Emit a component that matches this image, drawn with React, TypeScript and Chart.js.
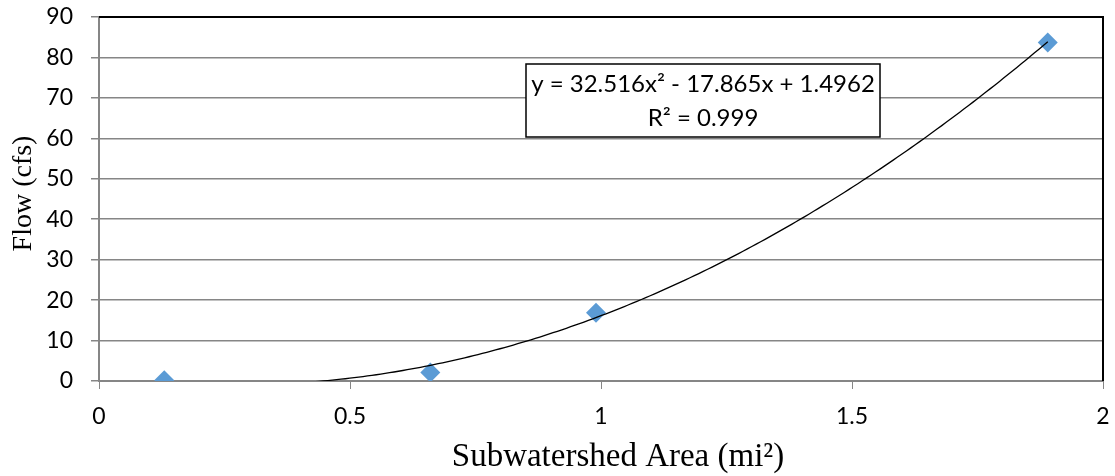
import { useEffect, useRef } from 'react';
import { Chart, registerables } from 'chart.js';

Chart.register(...registerables);

const areas = [0.13, 0.66, 0.99, 1.89];
const flows = [0.2, 2.1, 16.9, 83.7];
const trendCoefficients = [32.516, -17.865, 1.4962];
const xTicks = [0, 0.5, 1, 1.5, 2];
const yTicks = [0, 10, 20, 30, 40, 50, 60, 70, 80, 90];
const equationLines = ['y = 32.516x² - 17.865x + 1.4962', 'R² = 0.999'];
const xTitle = 'Subwatershed Area (mi²)';
const yTitle = 'Flow (cfs)';

const TICK_FONT = "Lato, 'Noto Sans', sans-serif";
const TITLE_FONT = "'Liberation Serif', 'Times New Roman', serif";

function trendPoints() {
  const [a, b, c] = trendCoefficients;
  const pts: { x: number; y: number }[] = [];
  const start = areas[0];
  const end = areas[areas.length - 1];
  const steps = 200;
  for (let i = 0; i <= steps; i++) {
    const x = start + ((end - start) * i) / steps;
    pts.push({ x, y: a * x * x + b * x + c });
  }
  return pts;
}

const framePlugin = {
  id: 'frame',
  afterDatasetsDraw(chart: any) {
    const { ctx, chartArea } = chart;
    ctx.save();
    ctx.strokeStyle = '#000000';
    ctx.lineWidth = 2;
    ctx.beginPath();
    ctx.moveTo(chartArea.left, chartArea.top);
    ctx.lineTo(chartArea.right, chartArea.top);
    ctx.lineTo(chartArea.right, chartArea.bottom);
    ctx.stroke();
    ctx.restore();
  },
  afterDraw(chart: any) {
    const { ctx, chartArea } = chart;
    ctx.save();
    const left = 526, top = 64, right = 880, bottom = 137;
    ctx.fillStyle = '#ffffff';
    ctx.fillRect(left, top, right - left, bottom - top);
    ctx.strokeStyle = '#000000';
    ctx.lineWidth = 1.5;
    ctx.strokeRect(left, top, right - left, bottom - top);
    ctx.fillStyle = '#000000';
    ctx.font = `24px ${TICK_FONT}`;
    ctx.textAlign = 'center';
    ctx.textBaseline = 'middle';
    const cx = (left + right) / 2;
    ctx.fillText(equationLines[0], cx, 84);
    ctx.fillText(equationLines[1], cx, 118);
    // y-axis title
    ctx.save();
    ctx.translate(24, (chartArea.top + chartArea.bottom) / 2 - 5.5);
    ctx.rotate(-Math.PI / 2);
    ctx.font = `28px ${TITLE_FONT}`;
    ctx.textAlign = 'center';
    ctx.textBaseline = 'middle';
    ctx.fillText(yTitle, 0, 0);
    ctx.restore();
    // x-axis title
    ctx.font = `33px ${TITLE_FONT}`;
    ctx.textAlign = 'center';
    ctx.textBaseline = 'alphabetic';
    ctx.fillText(xTitle, 618, 466);
    ctx.restore();
  },
};

export default function App() {
  const ref = useRef<HTMLCanvasElement>(null);
  useEffect(() => {
    if (!ref.current) return;
    const chart = new Chart(ref.current, {
      type: 'scatter',
      data: {
        datasets: [
          {
            type: 'line',
            label: 'Trend',
            data: trendPoints(),
            borderColor: '#000000',
            borderWidth: 1.3,
            pointRadius: 0,
            fill: false,
            order: 0,
          },
          {
            label: 'Flow',
            data: areas.map((x, i) => ({ x, y: flows[i] })),
            pointStyle: 'rectRot',
            pointRadius: 10,
            pointBackgroundColor: '#5B9BD5',
            pointBorderColor: '#5B9BD5',
            pointBorderWidth: 0,
            showLine: false,
            order: 1,
          },
        ],
      } as any,
      options: {
        responsive: false,
        animation: false,
        layout: { padding: { left: 0, top: 17, right: 12, bottom: 0 } },
        plugins: { legend: { display: false }, tooltip: { enabled: false } },
        scales: {
          x: {
            type: 'linear',
            min: 0,
            max: 2,
            afterBuildTicks: (s: any) => {
              s.ticks = xTicks.map((v) => ({ value: v }));
            },
            afterFit: (s: any) => {
              s.height = 95;
              s.paddingLeft = 0;
              s.paddingRight = 0;
            },
            ticks: {
              color: '#000000',
              font: { family: TICK_FONT, size: 23 },
              padding: 14,
              maxRotation: 0,
              callback: (v: any) => String(v),
            },
            grid: {
              drawOnChartArea: false,
              drawTicks: true,
              tickLength: 8,
              color: '#868686',
              lineWidth: 1,
            },
            border: { color: '#868686', width: 2 },
            title: { display: false },
          },
          y: {
            type: 'linear',
            min: 0,
            max: 90,
            afterBuildTicks: (s: any) => {
              s.ticks = yTicks.map((v) => ({ value: v }));
            },
            afterFit: (s: any) => {
              s.width = 99;
              s.paddingTop = 0;
              s.paddingBottom = 0;
            },
            ticks: {
              color: '#000000',
              font: { family: TICK_FONT, size: 23 },
              padding: 18,
              callback: (v: any) => String(v),
            },
            grid: {
              drawTicks: true,
              tickLength: 8,
              color: '#868686',
              lineWidth: 1.5,
            },
            border: { color: '#868686', width: 2 },
            title: { display: false },
          },
        },
      } as any,
      plugins: [framePlugin],
    });
    return () => chart.destroy();
  }, []);
  return (
    <div style={{ position: 'fixed', left: 0, top: 0, width: 1115, height: 476, background: '#fff' }}>
      <canvas ref={ref} width={1115} height={476} />
    </div>
  );
}
